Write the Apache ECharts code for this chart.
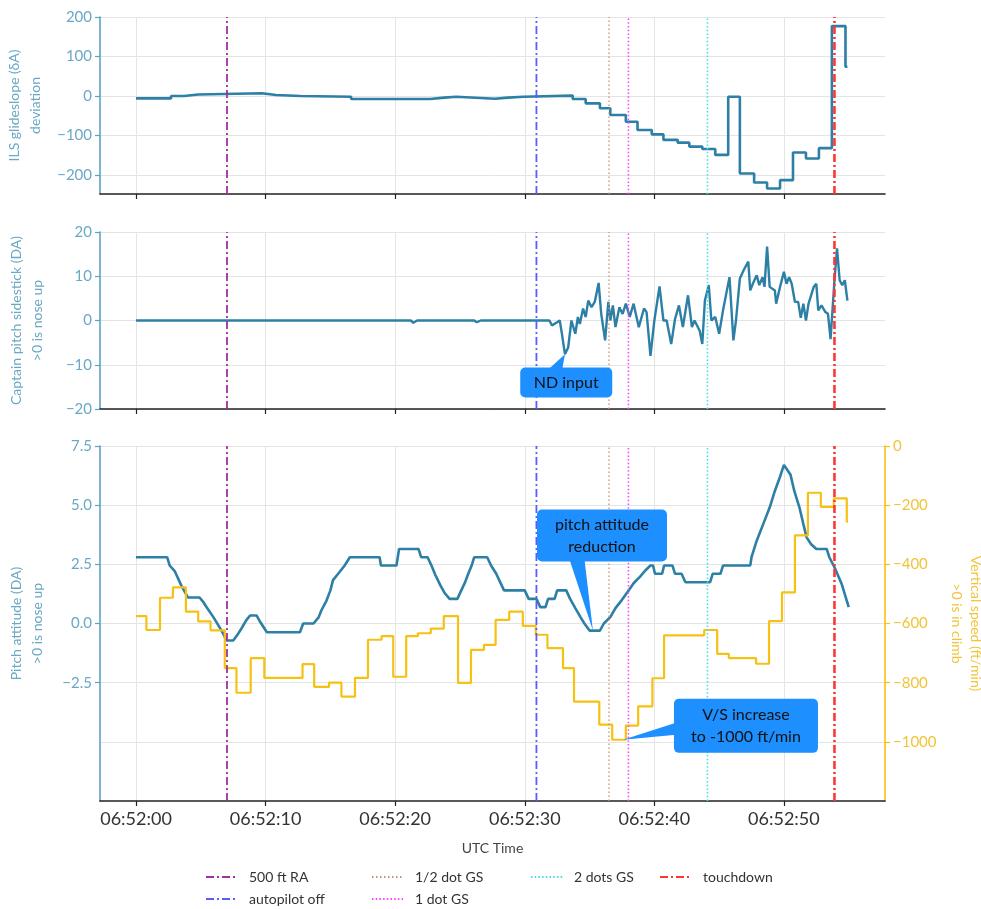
<!DOCTYPE html>
<html><head><meta charset="utf-8">
<script src="https://cdn.jsdelivr.net/npm/echarts@6/dist/echarts.min.js"></script>
<style>html,body{margin:0;padding:0;background:#fff}#c{width:981px;height:909px}</style>
</head><body><div id="c"></div>
<script>
// ---------- ticks ----------
const timeTicks = [0, 10, 20, 30, 40, 50];
const gsTicks = [-200, -100, 0, 100, 200];
const stickTicks = [-20, -10, 0, 10, 20];
const pitchTicks = [-2.5, 0, 2.5, 5, 7.5];
const vsTicks = [-1000, -800, -600, -400, -200, 0];

// ---------- ILS glideslope deviation (step, seconds after 06:52:00) ----------
const gsTime  = [0, 2.7, 3.7, 4.8, 9.7, 10.8, 12.7, 16.6, 22.7, 23.8, 24.7, 27.7, 28.7, 29.9, 33.7, 34.7, 35.8, 36.6, 37.8, 38.7, 39.8, 40.7, 41.8, 42.7, 43.7, 44.7, 45.7, 46.6, 47.7, 48.7, 49.7, 50.7, 51.7, 52.7, 53.7, 54.75, 54.9];
const gsValue = [-6, 0, 4, 7, 2.5, 0, -2, -7.5, -4, -2, -7, -4, -1.7, 1, -7.6, -18.5, -31, -48, -65, -86, -97, -111, -118, -128, -134, -149, -2, -196, -219, -234, -213, -143, -158, -132, 177, 74, 74];

// ---------- Captain pitch sidestick ----------
const stickTime  = [0, 2.0, 2.1, 2.3, 21.2, 21.4, 21.7, 26.1, 26.3, 26.6, 31.9, 32.1, 32.5, 32.7, 32.85, 33.1, 33.35, 33.6, 33.9, 34.1, 34.25, 34.5, 34.7, 34.9, 35.15, 35.4, 35.7, 35.9, 36.2, 36.45, 36.6, 36.8, 37.0, 37.3, 37.55, 37.8, 38.1, 38.4, 38.8, 39.2, 39.4, 39.7, 40.0, 40.4, 40.7, 40.95, 41.3, 41.6, 41.9, 42.2, 42.6, 42.9, 43.1, 43.5, 43.7, 43.9, 44.2, 44.4, 44.7, 45.0, 45.3, 45.8, 46.1, 46.3, 46.6, 46.9, 47.25, 47.4, 47.6, 47.9, 48.1, 48.35, 48.5, 48.7, 48.9, 49.3, 49.4, 49.7, 50.0, 50.2, 50.4, 50.6, 50.85, 51.1, 51.3, 51.5, 51.7, 51.9, 52.3, 52.5, 52.65, 52.9, 53.2, 53.4, 53.6, 53.75, 53.9, 54.1, 54.3, 54.5, 54.7, 54.9];
const stickValue = [0, 0, -0.3, 0, 0, -0.5, 0, 0, -0.4, 0, 0, -1.1, -0.4, 0, -2.7, -7.6, -6.1, 0, -3.0, 0.8, -0.8, 2.7, 0.8, 4.5, 3.0, 4.2, 8.5, 1.5, -4.5, 4.2, 0, 3.4, -1.5, 3.0, 1.5, 3.8, 0.8, 3.8, -1.5, 2.7, 1.9, -8.0, 0, 7.7, 0, 0, -5.3, 0.4, 3.4, -1.5, 5.7, -1.5, 0, -2.3, -5.3, 4.5, 8.0, 0, 0.8, -3.0, 2.3, 9.8, -4.5, 0, 9.5, 11.4, 13.3, 6.8, 8.3, 10.2, 8.0, 9.8, 7.6, 16.7, 7.6, 6.8, 3.8, 7.6, 11.0, 8.3, 9.8, 8.3, 4.2, 4.2, 0.6, 3.8, 0, 3.8, 7.6, 8.3, 2.3, 3.4, 1.9, 1.5, -4.2, -3.8, 9.1, 16.3, 9.1, 8.0, 9.1, 4.5];

// ---------- Pitch attitude ----------
const pitchTime  = [0, 2.4, 2.6, 3.0, 3.5, 4.0, 4.9, 5.2, 5.45, 5.97, 6.6, 7.0, 7.5, 7.8, 8.15, 8.5, 8.8, 9.3, 9.6, 10.1, 12.65, 12.9, 13.7, 14.1, 14.3, 14.7, 15.0, 15.2, 15.6, 16.1, 16.5, 18.8, 18.9, 20.1, 20.3, 21.8, 22.0, 22.5, 22.8, 23.1, 23.5, 23.8, 24.2, 24.8, 25.1, 25.4, 25.6, 25.9, 26.1, 27.1, 27.4, 27.8, 28.1, 28.4, 30.0, 30.3, 30.9, 31.2, 31.6, 31.8, 32.3, 32.5, 33.2, 33.5, 33.9, 34.3, 34.6, 35.0, 35.8, 36.1, 36.6, 37.0, 37.5, 38.0, 38.4, 38.9, 39.3, 39.7, 39.9, 40.05, 40.6, 40.75, 41.4, 41.6, 42.1, 42.4, 44.3, 44.5, 45.1, 45.3, 47.4, 47.5, 47.9, 48.4, 48.9, 49.3, 49.7, 50.0, 50.5, 50.8, 51.2, 51.5, 51.75, 52.1, 52.5, 53.3, 53.5, 53.9, 54.45, 55.0];
const pitchValue = [2.8, 2.8, 2.45, 2.2, 1.6, 1.1, 1.1, 0.9, 0.69, 0.27, -0.3, -0.72, -0.72, -0.5, -0.2, 0.13, 0.34, 0.34, 0.05, -0.37, -0.37, 0.0, 0.0, 0.27, 0.55, 0.97, 1.4, 1.83, 2.1, 2.45, 2.8, 2.8, 2.45, 2.45, 3.15, 3.15, 2.8, 2.8, 2.45, 2.05, 1.6, 1.3, 1.04, 1.04, 1.4, 1.75, 2.05, 2.45, 2.8, 2.8, 2.45, 2.1, 1.75, 1.4, 1.4, 1.04, 1.04, 0.69, 0.69, 1.04, 1.04, 1.4, 1.4, 1.04, 0.65, 0.27, 0.0, -0.3, -0.3, 0.0, 0.27, 0.65, 1.0, 1.38, 1.7, 1.98, 2.24, 2.45, 2.45, 2.1, 2.1, 2.45, 2.45, 2.1, 2.1, 1.74, 1.74, 2.1, 2.1, 2.45, 2.45, 2.8, 3.5, 4.2, 4.9, 5.6, 6.2, 6.7, 6.3, 5.6, 4.9, 4.2, 3.64, 3.35, 3.15, 3.15, 2.8, 2.38, 1.68, 0.69];

// ---------- Vertical speed (step) ----------
const vsTime  = [0, 0.8, 1.85, 2.85, 3.85, 4.8, 5.75, 6.85, 7.75, 8.85, 9.9, 12.85, 13.75, 14.9, 15.85, 16.9, 17.9, 18.95, 19.85, 20.85, 21.75, 22.75, 23.75, 24.85, 25.85, 26.85, 27.75, 28.8, 29.85, 30.85, 31.75, 32.95, 33.8, 35.75, 36.75, 37.8, 38.75, 39.85, 40.75, 43.85, 44.85, 45.75, 47.85, 48.85, 49.85, 50.85, 51.85, 52.85, 53.85, 54.85, 54.95];
const vsValue = [-575, -622, -513, -478, -560, -593, -623, -751, -834, -717, -784, -737, -814, -800, -847, -784, -655, -643, -780, -643, -633, -617, -575, -801, -689, -672, -588, -560, -608, -638, -683, -751, -864, -942, -993, -945, -880, -785, -640, -622, -703, -717, -736, -592, -495, -302, -158, -206, -177, -256, -256];

// ---------- events ----------
const eventNames = ['500 ft RA', 'autopilot off', '1/2 dot GS', '1 dot GS', '2 dots GS', 'touchdown'];
const eventTimes = [7.02, 30.9, 36.5, 38.0, 44.1, 53.9];

// ---------- annotations ----------
const annoText = ['ND input', 'pitch attitude\nreduction', 'V/S increase\nto -1000 ft/min'];
const annoTip = [[33.1, -7.6], [35.26, -0.3], [37.58, -993]];
const annoBox = [[33.2, -14.0], [35.96, 3.72], [47.07, -946]];

// ---------- styles ----------
const BLUE = '#2c7fa5', YELLOW = '#f7c114', TEAL = '#6aa8c4', TEALLINE = '#5aa3c4', YTXT = '#f0c43a';
const eventStyles = [
  {color: '#a0309f', type: [8, 3, 2, 3], width: 1.8},
  {color: '#5b5bff', type: [8, 3, 2, 3], width: 1.8},
  {color: '#c99272', type: [1.5, 2.5], width: 1.3},
  {color: '#ff45ff', type: [1.5, 2.2], width: 1.6},
  {color: '#40e0ec', type: [1.5, 2.2], width: 1.6},
  {color: '#ff3535', type: [8, 3, 2, 3], width: 2.6}
];
const annoSize = [[92, 30], [130, 52], [144, 54]];
const annoSide = ['top', 'bottom', 'left'];
const annoOff = [-11, -25, 3];
const annoBase = [14, 15, 12];

const FONT = 'Lato';
const tfmt = v => '06:52:' + String(Math.round(v)).padStart(2, '0');
const minus = s => String(s).replace('-', '\u2212');

const zip = (a, b) => a.map((t, i) => [t, b[i]]);

const grids = [
  {left: 100, right: 96, top: 17, height: 177},
  {left: 100, right: 96, top: 232, height: 177},
  {left: 100, right: 96, top: 446, height: 355}
].map(g => Object.assign(g, {containLabel: false, outerBoundsMode: 'none'}));
const yRanges = [[-248, 200], [-20, 20], [-7.5, 7.5]];

const xAxes = [0, 1, 2].map(i => ({
  type: 'value', gridIndex: i, min: -2.78, max: 57.8,
  axisLine: {onZero: false, lineStyle: {color: '#222', width: 1.6}},
  axisTick: {customValues: timeTicks, length: 5, lineStyle: {color: '#222', width: 1.2}},
  axisLabel: {show: i === 2, customValues: timeTicks, formatter: tfmt, fontSize: 18, color: '#333', margin: 9, fontFamily: FONT},
  splitLine: {show: true, lineStyle: {color: '#e4e4e4', width: 1}},
  name: i === 2 ? 'UTC Time' : '', nameLocation: 'middle', nameGap: 40,
  nameTextStyle: {fontSize: 14, color: '#444', fontFamily: FONT}
}));

function leftY(i, ticks, name, fmt) {
  return {
    type: 'value', gridIndex: i, min: yRanges[i][0], max: yRanges[i][1], position: 'left',
    axisLine: {show: true, onZero: false, lineStyle: {color: TEALLINE, width: 1.6}},
    axisTick: {show: true, customValues: ticks, length: 5, lineStyle: {color: TEALLINE, width: 1.2}},
    axisLabel: {customValues: ticks, formatter: fmt, fontSize: 15, color: TEAL, margin: 8, fontFamily: FONT},
    splitLine: {show: i !== 2, lineStyle: {color: '#e4e4e4', width: 1}},
    name: name, nameLocation: 'middle', nameGap: 52, nameRotate: 90,
    nameTextStyle: {fontSize: 14, color: TEAL, lineHeight: 21, fontFamily: FONT}
  };
}
const yAxes = [
  leftY(0, gsTicks, 'ILS glideslope (\u03b4A)\ndeviation', v => minus(v)),
  leftY(1, stickTicks, 'Captain pitch sidestick (DA)\n>0 is nose up', v => minus(v)),
  leftY(2, pitchTicks, 'Pitch attitude (DA)\n>0 is nose up', v => minus(v.toFixed(1))),
  {
    type: 'value', gridIndex: 2, min: -1200, max: 0, position: 'right',
    axisLine: {show: true, onZero: false, lineStyle: {color: YELLOW, width: 1.6}},
    axisTick: {show: true, customValues: vsTicks, length: 5, lineStyle: {color: YELLOW, width: 1.2}},
    axisLabel: {customValues: vsTicks, formatter: v => minus(v), fontSize: 15, color: YTXT, margin: 8, fontFamily: FONT},
    splitLine: {show: true, lineStyle: {color: '#e4e4e4', width: 1}},
    name: 'Vertical speed (ft/min)\n>0 is in climb', nameLocation: 'middle', nameGap: 62, nameRotate: -90,
    nameTextStyle: {fontSize: 14, color: YTXT, lineHeight: 19, fontFamily: FONT}
  }
];

const series = [
  {type: 'line', name: 'gs', xAxisIndex: 0, yAxisIndex: 0, step: 'end', showSymbol: false, symbol: 'none',
   data: zip(gsTime, gsValue), lineStyle: {color: BLUE, width: 2.6}, z: 3, silent: true},
  {type: 'line', name: 'stick', xAxisIndex: 1, yAxisIndex: 1, showSymbol: false, symbol: 'none',
   data: zip(stickTime, stickValue), lineStyle: {color: BLUE, width: 2.4}, z: 3, silent: true},
  {type: 'line', name: 'pitch', xAxisIndex: 2, yAxisIndex: 2, showSymbol: false, symbol: 'none',
   data: zip(pitchTime, pitchValue), lineStyle: {color: BLUE, width: 2.6}, z: 3, silent: true},
  {type: 'line', name: 'vs', xAxisIndex: 2, yAxisIndex: 3, step: 'end', showSymbol: false, symbol: 'none',
   data: zip(vsTime, vsValue), lineStyle: {color: YELLOW, width: 2.2}, z: 3, silent: true}
];
eventNames.forEach((n, e) => {
  [0, 1, 2].forEach(g => {
    const st = eventStyles[e];
    series.push({
      type: 'line', name: n, xAxisIndex: g, yAxisIndex: g, symbol: 'none', showSymbol: false, silent: true,
      data: [[eventTimes[e], yRanges[g][0]], [eventTimes[e], yRanges[g][1]]],
      lineStyle: {color: st.color, type: st.type, width: st.width}, itemStyle: {color: st.color}, z: 5
    });
  });
});

const legendCols = [[eventNames[0], eventNames[1]], [eventNames[2], eventNames[3]], [eventNames[4]], [eventNames[5]]];
const legendLeft = [205, 371, 530, 659];
const legends = legendCols.map((d, i) => ({
  data: d, left: legendLeft[i], top: 870, orient: 'vertical', itemGap: 8, itemWidth: 32, itemHeight: 14,
  selectedMode: false, itemStyle: {opacity: 0, borderWidth: 0},
  textStyle: {fontSize: 14, color: '#333', fontFamily: FONT, padding: [0, 0, 0, 6]}, padding: 0
}));

const chart = echarts.init(document.getElementById('c'), null, {renderer: 'canvas'});
chart.setOption({
  animation: false,
  backgroundColor: '#fff',
  textStyle: {fontFamily: FONT},
  grid: grids,
  xAxis: xAxes,
  yAxis: yAxes,
  legend: legends,
  series: series
});

// annotations positioned from data coordinates
const annoSeries = [1, 2, 3];
const graphics = [];
annoText.forEach((txt, i) => {
  const tip = chart.convertToPixel({seriesIndex: annoSeries[i]}, annoTip[i]);
  const c = chart.convertToPixel({seriesIndex: annoSeries[i]}, annoBox[i]);
  const w = annoSize[i][0], h = annoSize[i][1];
  const x0 = c[0] - w / 2, y0 = c[1] - h / 2;
  let pts;
  const b = annoBase[i] / 2, o = annoOff[i];
  if (annoSide[i] === 'top') pts = [[c[0] + o - b, y0 + 2], [c[0] + o + b, y0 + 2], tip];
  else if (annoSide[i] === 'bottom') pts = [[c[0] + o - b, y0 + h - 2], [c[0] + o + b, y0 + h - 2], tip];
  else pts = [[x0 + 2, c[1] + o - b], [x0 + 2, c[1] + o + b], tip];
  graphics.push({type: 'polygon', shape: {points: pts}, style: {fill: '#1e8fff'}, z: 100, silent: true});
  graphics.push({type: 'rect', shape: {x: x0, y: y0, width: w, height: h, r: 5}, style: {fill: '#1e8fff'}, z: 100, silent: true});
  graphics.push({type: 'text', x: c[0], y: c[1], z: 101, silent: true,
    style: {text: txt, fill: '#111', font: '16px ' + FONT, align: 'center', verticalAlign: 'middle', lineHeight: 22}});
});
chart.setOption({graphic: graphics});
</script>
</body></html>
